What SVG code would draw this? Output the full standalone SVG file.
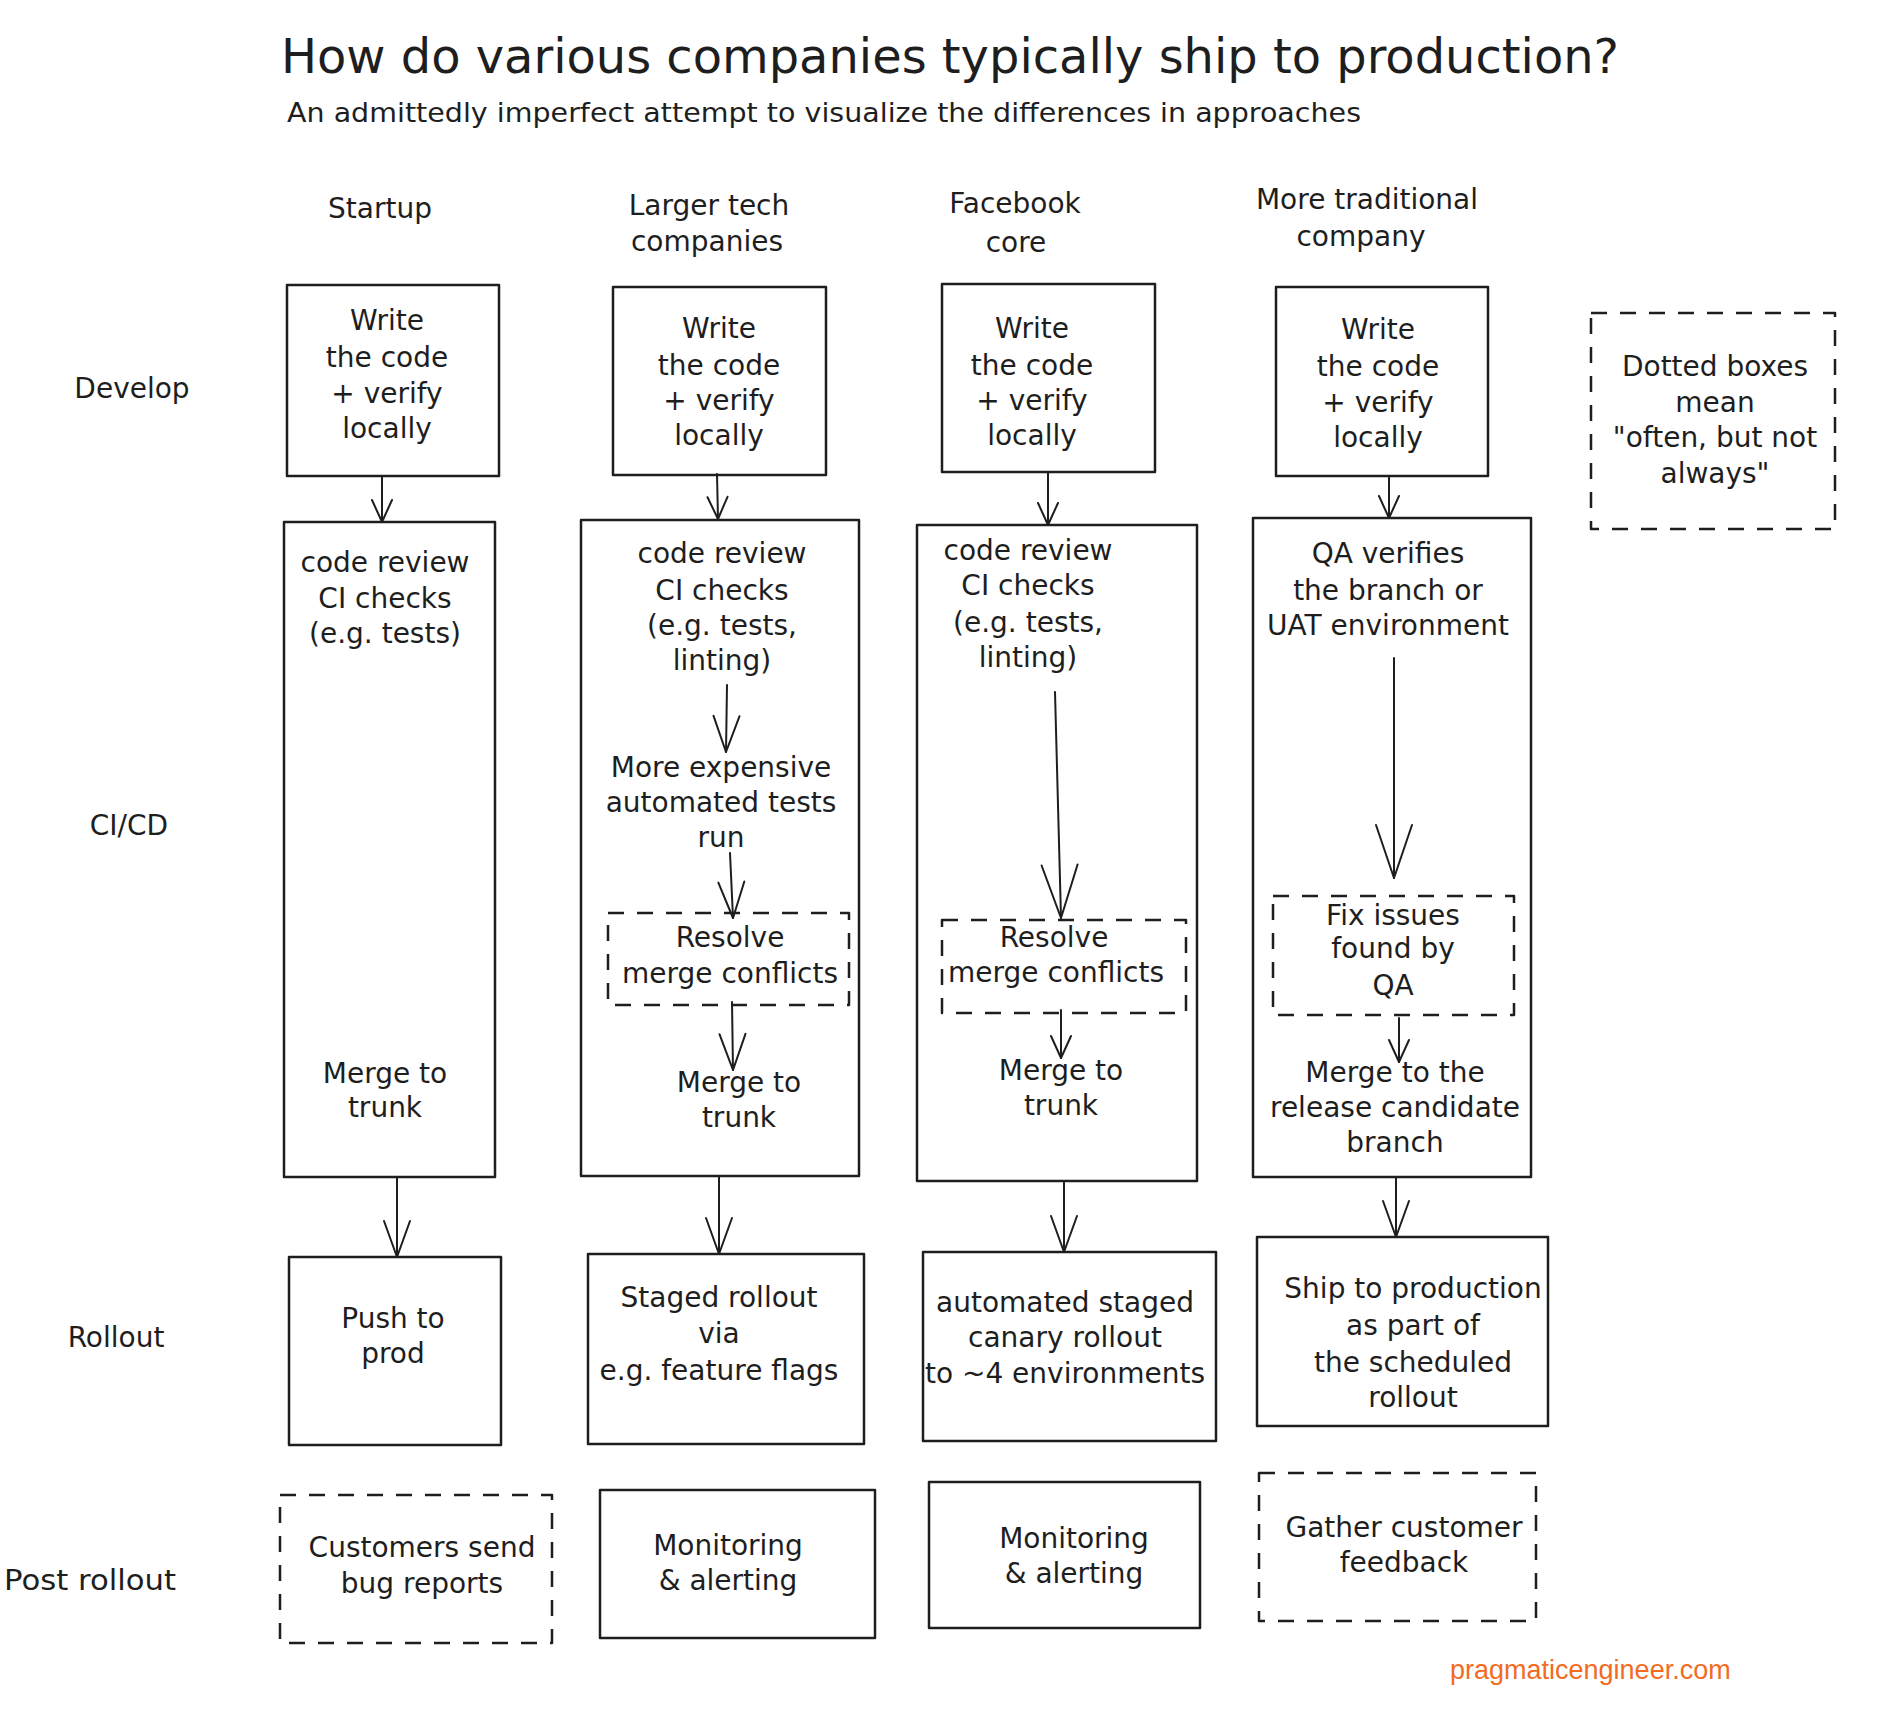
<svg xmlns="http://www.w3.org/2000/svg" width="1878" height="1720" viewBox="0 0 1878 1720">
<style>
.box{fill:none;stroke:#1e1e1e;stroke-width:2.5;stroke-linejoin:round}
.dash{stroke-dasharray:16 13}
.t{font-family:"DejaVu Sans","Liberation Sans",sans-serif;font-size:28px;fill:#1e1e1e;text-anchor:middle}
.lbl{font-family:"DejaVu Sans","Liberation Sans",sans-serif;font-size:28px;fill:#1e1e1e;text-anchor:middle}
.conn path{fill:none;stroke:#1e1e1e;stroke-width:2;stroke-linecap:round}
</style>
<defs>
<marker id="ahs" markerUnits="userSpaceOnUse" markerWidth="1" markerHeight="1" refX="0" refY="0" orient="auto" overflow="visible"><path d="M-22,-10 L0,0 L-22,10" fill="none" stroke="#1e1e1e" stroke-width="2" stroke-linecap="round" stroke-linejoin="round"/></marker>
<marker id="ahm" markerUnits="userSpaceOnUse" markerWidth="1" markerHeight="1" refX="0" refY="0" orient="auto" overflow="visible"><path d="M-36,-13 L0,0 L-36,13" fill="none" stroke="#1e1e1e" stroke-width="2" stroke-linecap="round" stroke-linejoin="round"/></marker>
<marker id="ahl" markerUnits="userSpaceOnUse" markerWidth="1" markerHeight="1" refX="0" refY="0" orient="auto" overflow="visible"><path d="M-53,-18 L0,0 L-53,18" fill="none" stroke="#1e1e1e" stroke-width="2" stroke-linecap="round" stroke-linejoin="round"/></marker>
</defs>
<rect width="1878" height="1720" fill="#ffffff"/>

<g id="title">
<text x="281" y="73" font-family="DejaVu Sans, Liberation Sans, sans-serif" font-size="48" fill="#1e1e1e" textLength="1338" lengthAdjust="spacingAndGlyphs">How do various companies typically ship to production?</text>
<text x="287" y="122" font-family="DejaVu Sans, Liberation Sans, sans-serif" font-size="27" fill="#1e1e1e" textLength="1074" lengthAdjust="spacingAndGlyphs">An admittedly imperfect attempt to visualize the differences in approaches</text>
</g>

<g id="headers">
<text class="lbl" x="380" y="218">Startup</text>
<text class="lbl"><tspan x="709" y="215">Larger tech</tspan><tspan x="707" y="251">companies</tspan></text>
<text class="lbl"><tspan x="1015" y="213">Facebook</tspan><tspan x="1016" y="252">core</tspan></text>
<text class="lbl"><tspan x="1367" y="209">More traditional</tspan><tspan x="1361" y="246">company</tspan></text>
</g>

<g id="row-labels">
<text class="lbl" x="132" y="398">Develop</text>
<text class="lbl" x="129" y="835">CI/CD</text>
<text class="lbl" x="116" y="1347">Rollout</text>
<text x="4" y="1590" font-family="DejaVu Sans, Liberation Sans, sans-serif" font-size="29" fill="#1e1e1e" textLength="172" lengthAdjust="spacingAndGlyphs">Post rollout</text>
</g>

<g id="startup-develop">
<rect class="box" x="287" y="285" width="212" height="191"/>
<text class="t"><tspan x="387" y="330">Write</tspan><tspan x="387" y="367">the code</tspan><tspan x="387" y="403">+ verify</tspan><tspan x="387" y="438">locally</tspan></text>
</g>
<g id="larger-develop">
<rect class="box" x="613" y="287" width="213" height="188"/>
<text class="t"><tspan x="719" y="338">Write</tspan><tspan x="719" y="375">the code</tspan><tspan x="719" y="410">+ verify</tspan><tspan x="719" y="445">locally</tspan></text>
</g>
<g id="facebook-develop">
<rect class="box" x="942" y="284" width="213" height="188"/>
<text class="t"><tspan x="1032" y="338">Write</tspan><tspan x="1032" y="375">the code</tspan><tspan x="1032" y="410">+ verify</tspan><tspan x="1032" y="445">locally</tspan></text>
</g>
<g id="traditional-develop">
<rect class="box" x="1276" y="287" width="212" height="189"/>
<text class="t"><tspan x="1378" y="339">Write</tspan><tspan x="1378" y="376">the code</tspan><tspan x="1378" y="412">+ verify</tspan><tspan x="1378" y="447">locally</tspan></text>
</g>
<g id="legend">
<rect class="box dash" x="1591" y="313" width="244" height="216"/>
<text class="t"><tspan x="1715" y="376">Dotted boxes</tspan><tspan x="1715" y="412">mean</tspan><tspan x="1715" y="447">"often, but not</tspan><tspan x="1715" y="483">always"</tspan></text>
</g>

<g id="startup-cicd">
<rect class="box" x="284" y="522" width="211" height="655"/>
<text class="t"><tspan x="385" y="572">code review</tspan><tspan x="385" y="608">CI checks</tspan><tspan x="385" y="643">(e.g. tests)</tspan></text>
<text class="t"><tspan x="385" y="1083">Merge to</tspan><tspan x="385" y="1117">trunk</tspan></text>
</g>

<g id="larger-cicd">
<rect class="box" x="581" y="520" width="278" height="656"/>
<text class="t"><tspan x="722" y="563">code review</tspan><tspan x="722" y="600">CI checks</tspan><tspan x="722" y="635">(e.g. tests,</tspan><tspan x="722" y="670">linting)</tspan></text>
<text class="t"><tspan x="721" y="777">More expensive</tspan><tspan x="721" y="812">automated tests</tspan><tspan x="721" y="847">run</tspan></text>
<text class="t"><tspan x="739" y="1092">Merge to</tspan><tspan x="739" y="1127">trunk</tspan></text>
</g>
<g id="larger-resolve">
<rect class="box dash" x="608" y="913" width="241" height="92"/>
<text class="t"><tspan x="730" y="947">Resolve</tspan><tspan x="730" y="983">merge conflicts</tspan></text>
</g>

<g id="facebook-cicd">
<rect class="box" x="917" y="525" width="280" height="656"/>
<text class="t"><tspan x="1028" y="560">code review</tspan><tspan x="1028" y="595">CI checks</tspan><tspan x="1028" y="632">(e.g. tests,</tspan><tspan x="1028" y="667">linting)</tspan></text>
<text class="t"><tspan x="1061" y="1080">Merge to</tspan><tspan x="1061" y="1115">trunk</tspan></text>
</g>
<g id="facebook-resolve">
<rect class="box dash" x="942" y="920" width="244" height="93"/>
<text class="t"><tspan x="1054" y="947">Resolve</tspan><tspan x="1056" y="982">merge conflicts</tspan></text>
</g>

<g id="traditional-cicd">
<rect class="box" x="1253" y="518" width="278" height="659"/>
<text class="t"><tspan x="1388" y="563">QA verifies</tspan><tspan x="1388" y="600">the branch or</tspan><tspan x="1388" y="635">UAT environment</tspan></text>
<text class="t"><tspan x="1395" y="1082">Merge to the</tspan><tspan x="1395" y="1117">release candidate</tspan><tspan x="1395" y="1152">branch</tspan></text>
</g>
<g id="traditional-fix">
<rect class="box dash" x="1273" y="896" width="241" height="119"/>
<text class="t"><tspan x="1393" y="925">Fix issues</tspan><tspan x="1393" y="958">found by</tspan><tspan x="1393" y="995">QA</tspan></text>
</g>

<g id="startup-rollout">
<rect class="box" x="289" y="1257" width="212" height="188"/>
<text class="t"><tspan x="393" y="1328">Push to</tspan><tspan x="393" y="1363">prod</tspan></text>
</g>
<g id="larger-rollout">
<rect class="box" x="588" y="1254" width="276" height="190"/>
<text class="t"><tspan x="719" y="1307">Staged rollout</tspan><tspan x="719" y="1343">via</tspan><tspan x="719" y="1380">e.g. feature flags</tspan></text>
</g>
<g id="facebook-rollout">
<rect class="box" x="923" y="1252" width="293" height="189"/>
<text class="t"><tspan x="1065" y="1312">automated staged</tspan><tspan x="1065" y="1347">canary rollout</tspan><tspan x="1065" y="1383">to ~4 environments</tspan></text>
</g>
<g id="traditional-rollout">
<rect class="box" x="1257" y="1237" width="291" height="189"/>
<text class="t"><tspan x="1413" y="1298">Ship to production</tspan><tspan x="1413" y="1335">as part of</tspan><tspan x="1413" y="1372">the scheduled</tspan><tspan x="1413" y="1407">rollout</tspan></text>
</g>

<g id="startup-post">
<rect class="box dash" x="280" y="1495" width="272" height="148"/>
<text class="t"><tspan x="422" y="1557">Customers send</tspan><tspan x="422" y="1593">bug reports</tspan></text>
</g>
<g id="larger-post">
<rect class="box" x="600" y="1490" width="275" height="148"/>
<text class="t"><tspan x="728" y="1555">Monitoring</tspan><tspan x="728" y="1590">&amp; alerting</tspan></text>
</g>
<g id="facebook-post">
<rect class="box" x="929" y="1482" width="271" height="146"/>
<text class="t"><tspan x="1074" y="1548">Monitoring</tspan><tspan x="1074" y="1583">&amp; alerting</tspan></text>
</g>
<g id="traditional-post">
<rect class="box dash" x="1259" y="1473" width="277" height="148"/>
<text class="t"><tspan x="1404" y="1537">Gather customer</tspan><tspan x="1404" y="1572">feedback</tspan></text>
</g>

<g id="connectors" class="conn">
<path d="M382,476 L382,522" marker-end="url(#ahs)"/>
<path d="M717,474 L718,519" marker-end="url(#ahs)"/>
<path d="M1048,472 L1048,525" marker-end="url(#ahs)"/>
<path d="M1389,476 L1389,518" marker-end="url(#ahs)"/>
<path d="M727,685 L726,752" marker-end="url(#ahm)"/>
<path d="M730,853 L733,918" marker-end="url(#ahm)"/>
<path d="M732,1002 L733,1070" marker-end="url(#ahm)"/>
<path d="M1055,692 L1061,918" marker-end="url(#ahl)"/>
<path d="M1061,1010 L1061,1058" marker-end="url(#ahs)"/>
<path d="M1394,658 L1394,878" marker-end="url(#ahl)"/>
<path d="M1399,1018 L1399,1062" marker-end="url(#ahs)"/>
<path d="M397,1177 L397,1257" marker-end="url(#ahm)"/>
<path d="M719,1176 L719,1254" marker-end="url(#ahm)"/>
<path d="M1064,1181 L1064,1252" marker-end="url(#ahm)"/>
<path d="M1396,1177 L1396,1237" marker-end="url(#ahm)"/>
</g>

<g id="footer">
<text x="1450" y="1679" font-family="Liberation Sans, Arial, sans-serif" font-size="27" fill="#f26b1f">pragmaticengineer.com</text>
</g>
</svg>
